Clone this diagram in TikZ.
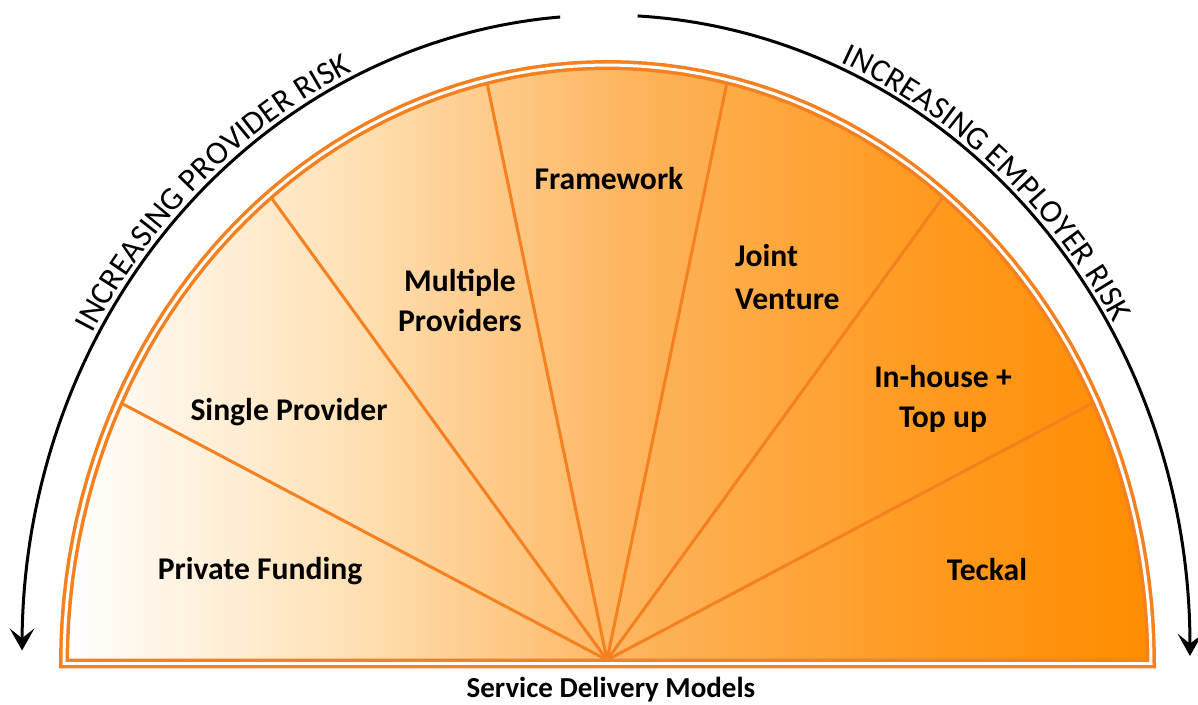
\documentclass[tikz,border=0pt]{standalone}
\usepackage{fontspec}
\setmainfont{Carlito}
\usepackage{tikz}
\usetikzlibrary{arrows.meta,decorations.text}
\definecolor{rim}{RGB}{245,128,32}
\definecolor{peach}{RGB}{255,226,184}
\definecolor{apricot}{RGB}{253,178,88}
\definecolor{tangerine}{RGB}{255,155,34}
\definecolor{deeporange}{RGB}{255,140,0}
\pgfdeclarehorizontalshading{fan}{100bp}{color(0bp)=(white); color(25bp)=(white); color(37.7bp)=(peach); color(52bp)=(apricot); color(64bp)=(tangerine); color(75bp)=(deeporange); color(100bp)=(deeporange)}

\begin{document}
\begin{tikzpicture}[x=0.02cm,y=0.02cm,
  model/.style={font=\fontsize{18}{23}\selectfont\bfseries,align=center,anchor=base},
  riskarrow/.style={line width=0.06cm,-{Stealth[length=12.5pt,width=14pt,inset=5.5pt]}},
  risktext/.style={decorate,decoration={text along path,text align=center,raise=3pt,
    text={|\fontsize{18.5}{20}\selectfont|#1}}}]
\useasboundingbox (0,0) rectangle (1198,704);
% half-ellipse fan with seven sectors
\shade[shading=fan] plot[domain=180:0,samples=91] ({607.5+543.5*cos(\x)},{40.5+598.5*sin(\x)}) -- cycle;
\coordinate (hub) at (607,44);
\foreach \k in {1,...,6}
  \draw[rim,line width=0.06cm] (hub) -- ({607+540*cos(180-\k*180/7)},{44+593*sin(180-\k*180/7)});
\draw[rim,line width=0.07cm,double=white,double distance=0.06cm]
  plot[domain=180:0,samples=91] ({607.5+543.5*cos(\x)},{40.5+598.5*sin(\x)}) -- cycle;
% base anchors sit on the last line of two-line labels
\node[model] (private) at (260,124) {Private Funding};
\node[model] (single) at (289,283) {Single Provider};
\node[model] (multiple) at (460,372) {Multiple\\Providers};
\node[model] (framework) at (609,514) {Framework};
\node[model,anchor=base west,align=left,font=\fontsize{18}{25}\selectfont\bfseries] (joint) at (729,394) {Joint\\Venture};
\node[model] (inhouse) at (943,276) {In-house +\\Top up};
\node[model] (teckal) at (987,123) {Teckal};
\node[model,font=\fontsize{16.5}{20}\selectfont\bfseries] (caption) at (611,7) {Service Delivery Models};
% risk arrows round the fan
\draw[riskarrow] plot[domain=94.5:180.5,samples=87] ({606+584*cos(\x)},{59+630*sin(\x)});
\draw[riskarrow] plot[domain=86.9:-1,samples=89] ({606+584*cos(\x)},{59+630*sin(\x)});
\path[risktext={INCREASING PROVIDER RISK}] plot[domain=152:114,samples=39] ({606+584*cos(\x)},{59+630*sin(\x)});
\path[risktext={INCREASING EMPLOYER RISK}] plot[domain=67:30,samples=38] ({606+584*cos(\x)},{59+630*sin(\x)});
\end{tikzpicture}
\end{document}
